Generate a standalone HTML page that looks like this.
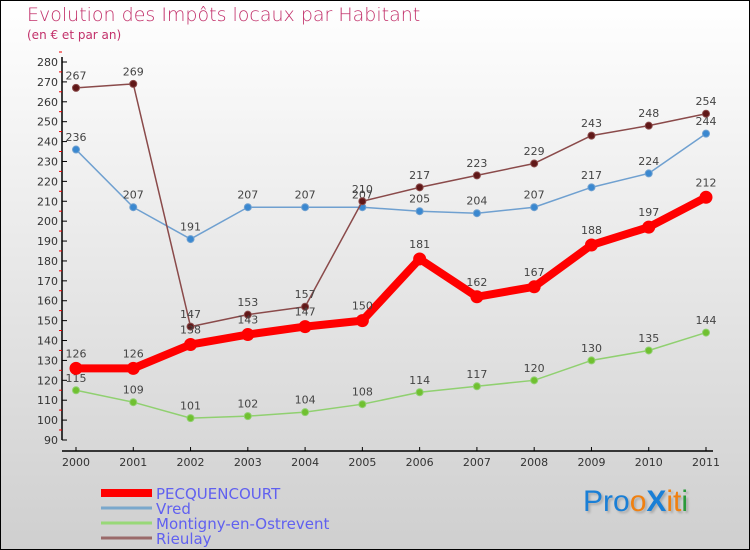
<!DOCTYPE html>
<html><head><meta charset="utf-8"><style>
body{margin:0}
#c{width:750px;height:550px;position:relative;overflow:hidden;box-sizing:border-box;border:1px solid #000;background:linear-gradient(#ffffff,#cfcfcf);font-family:"DejaVu Sans","Liberation Sans",sans-serif}
.t{position:absolute;color:#c2306a}
</style></head><body>
<div id="c">
<div class="t" style="left:26px;top:3px;font-size:19px;font-weight:200">Evolution des Impôts locaux par Habitant</div>
<div class="t" style="left:26px;top:27px;font-size:12px">(en € et par an)</div>
<svg id="s" width="750" height="550" style="position:absolute;left:0;top:0" font-family="DejaVu Sans, Liberation Sans, sans-serif"></svg>
<div style="position:absolute;left:582px;top:484px;font-size:30px;font-family:'Liberation Sans',sans-serif;text-shadow:2px 2px 2px #aaa"><span style="color:#1a7fd6">Pro</span><span style="color:#f08010">o</span><span style="color:#1a7fd6;font-weight:bold">X</span><span style="color:#f08010">it</span><span style="color:#2a9a3a">i</span></div>
</div>
<script>
const years=[2000,2001,2002,2003,2004,2005,2006,2007,2008,2009,2010,2011];
const pecq=[126,126,138,143,147,150,181,162,167,188,197,212];
const vred=[236,207,191,207,207,207,205,204,207,217,224,244];
const mont=[115,109,101,102,104,108,114,117,120,130,135,144];
const rieu=[267,269,147,153,157,210,217,223,229,243,248,254];
const yTicks=[90,100,110,120,130,140,150,160,170,180,190,200,210,220,230,240,250,260,270,280];
const names=["PECQUENCOURT","Vred","Montigny-en-Ostrevent","Rieulay"];
const s=document.getElementById('s');const NS='http://www.w3.org/2000/svg';
function X(i){return 75+i*(705-75)/11}
function Y(v){return 439-(v-90)*(439-61)/190}
function el(t,a,p){const e=document.createElementNS(NS,t);for(const k in a)e.setAttribute(k,a[k]);(p||s).appendChild(e);return e}
// axes
let ax=el('line',{x1:61,y1:56,x2:61,y2:439,stroke:'#000','stroke-width':1.5});

let xa=el('line',{x1:61,y1:450,x2:712,y2:450,stroke:'#000','stroke-width':1.5});

yTicks.forEach(v=>{const y=Y(v);
 el('line',{x1:61,y1:y,x2:66,y2:y,stroke:'#000'});
 el('line',{x1:58,y1:y-10,x2:61,y2:y-10,stroke:'#e00'});
 const t=el('text',{x:57,y:y+4,'text-anchor':'end','font-size':11,fill:'#333'});t.textContent=v;
 });
years.forEach((yr,i)=>{const x=X(i);el('line',{x1:x,y1:446,x2:x,y2:450,stroke:'#000'});
 const t=el('text',{x:x,y:465,'text-anchor':'middle','font-size':11,fill:'#333'});t.textContent=yr;
 });
function series(data,color,dot,w,r,name,lblColor){
 const g=el('g',{});
 el('polyline',{points:data.map((v,i)=>X(i)+','+Y(v)).join(' '),fill:'none',stroke:color,'stroke-width':w,'stroke-linejoin':'round'},g);
 data.forEach((v,i)=>{const c=el('circle',{cx:X(i),cy:Y(v),r:r,fill:dot,stroke:color,'stroke-width':1},g);
  
  const t=el('text',{x:X(i),y:Y(v)-r-5,'text-anchor':'middle','font-size':11,fill:'#444'},g);t.textContent=v;
  });
}
series(mont,'#90d070','#70c030',1.5,3.5,'montigny-series');
series(vred,'#6fa0d0','#3a88d0',1.5,3.5,'vred-series');
series(rieu,'#8a4a4a','#601818',1.5,3.5,'rieulay-series');
series(pecq,'#f00','#f00',8,6,'pecquencourt-series');
const lc=['#f00','#7aa8cc','#98d878','#9a6a6a'],lw=[8,3,3,3];
names.forEach((n,i)=>{const y=492+i*15;
 const g=el('g',{});
 el('line',{x1:100,y1:y,x2:151,y2:y,stroke:lc[i],'stroke-width':lw[i]},g);
 const t=el('text',{x:155,y:y+6,'font-size':15,fill:'#6060f0'},g);t.textContent=n;});
</script>
</body></html>
